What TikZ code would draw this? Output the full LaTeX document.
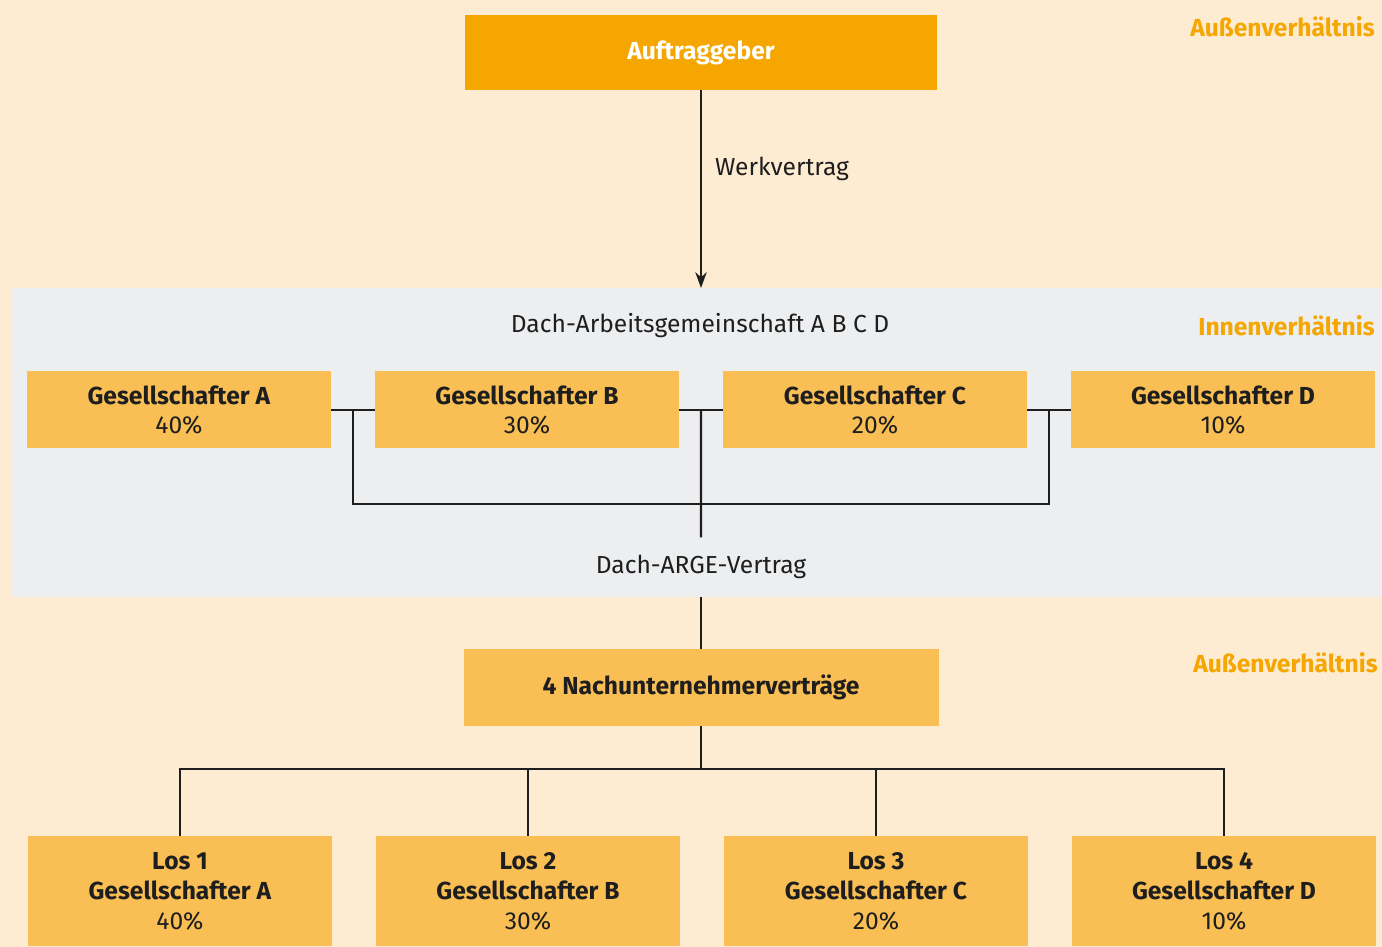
\documentclass[tikz,border=0pt]{standalone}
\usepackage{fontspec}
\setmainfont{Fira Sans}
\usepackage{xcolor}
\usetikzlibrary{arrows.meta,positioning,calc}

\definecolor{cream}{RGB}{253,236,210}
\definecolor{bandgray}{RGB}{237,238,240}
\definecolor{headorange}{RGB}{245,166,0}
\definecolor{boxorange}{RGB}{249,191,85}
\definecolor{darktext}{RGB}{30,30,30}

\begin{document}
\begin{tikzpicture}[
    node distance=0.88cm,
    font=\fontsize{14pt}{17pt}\selectfont,
    band/.style={rectangle, fill=bandgray, minimum width=27.4cm, minimum height=6.18cm, inner sep=0, outer sep=0},
    head/.style={rectangle, fill=headorange, text=white, font=\fontsize{14pt}{17pt}\selectfont\bfseries, minimum width=9.44cm, minimum height=1.5cm, outer sep=0},
    partner/.style={rectangle, fill=boxorange, text=darktext, minimum width=6.08cm, minimum height=1.54cm, align=center, outer sep=0},
    lot/.style={partner, minimum height=2.2cm, anchor=north},
    sub/.style={partner, font=\fontsize{14pt}{17pt}\selectfont\bfseries, minimum width=9.5cm},
    side/.style={anchor=east, inner sep=0, text=headorange, font=\fontsize{14pt}{17pt}\selectfont\bfseries},
    line/.style={draw=darktext, line width=1.3pt},
    arrow/.style={line, -{Stealth[length=9pt, width=6.5pt]}}
]

% Background
\fill[cream] (0,0) rectangle (27.64,-18.94);
\useasboundingbox (0,0) rectangle (27.64,-18.94);
\node[band] (inner) at (13.94,-8.85) {};

% Client
\node[head] (client) at (14.02,-1.05) {Auftraggeber};
\node[side] (outerA) at (27.5,-0.54) {Außenverhältnis};

% Dach-ARGE
\node[text=darktext] (arbeit) at (14.0,-6.52) {Dach-Arbeitsgemeinschaft A B C D};
\node[side] (innerlbl) at (27.5,-6.52) {Innenverhältnis};
\node[partner] (ga) at (3.58,-8.2) {\textbf{Gesellschafter A}\\40\%};
\node[partner, right=of ga] (gb) {\textbf{Gesellschafter B}\\30\%};
\node[partner, right=of gb] (gc) {\textbf{Gesellschafter C}\\20\%};
\node[partner, right=of gc] (gd) {\textbf{Gesellschafter D}\\10\%};
\node[text=darktext, inner sep=10pt] (arge) at (14.02,-11.34) {Dach-ARGE-Vertrag};

% Subcontracts
\node[sub] (nach) at (14.02,-13.75) {4 Nachunternehmerverträge};
\node[side] (outerB) at (27.56,-13.26) {Außenverhältnis};
\node[lot] (la) at (3.6,-16.72) {\textbf{Los 1}\\\textbf{Gesellschafter A}\\40\%};
\node[lot, right=of la] (lb) {\textbf{Los 2}\\\textbf{Gesellschafter B}\\30\%};
\node[lot, right=of lb] (lc) {\textbf{Los 3}\\\textbf{Gesellschafter C}\\20\%};
\node[lot, right=of lc] (ld) {\textbf{Los 4}\\\textbf{Gesellschafter D}\\10\%};

% Arrows
\draw[arrow] (client) -- node[right, pos=0.4, xshift=4pt, text=darktext] {Werkvertrag} (client |- inner.north);
\draw[line] (ga) -- (gb);
\draw[line] (gb) -- (gc);
\draw[line] (gc) -- (gd);
\coordinate (ab) at ($(ga.east)!0.5!(gb.west)$);
\coordinate (bc) at ($(gb.east)!0.5!(gc.west)$);
\coordinate (cd) at ($(gc.east)!0.5!(gd.west)$);
\draw[line] (ab) -- ++(0,-1.88) -| (cd);
\draw[line] (bc) -- (arge.north);
\draw[line] (inner.south -| nach.north) -- (nach);
\draw[line] (nach.south) -- ++(0,-0.86) coordinate (split);
\draw[line] (la.north) |- (split) -| (ld.north);
\draw[line] (lb.north) -- (lb.north |- split);
\draw[line] (lc.north) -- (lc.north |- split);

\end{tikzpicture}
\end{document}
